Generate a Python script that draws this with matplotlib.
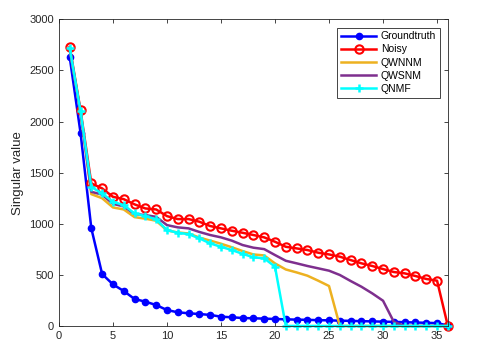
import matplotlib
matplotlib.use("Agg")
import matplotlib.pyplot as plt

plt.rcParams['font.family'] = ['Liberation Sans', 'DejaVu Sans']

idx = list(range(1, 37))

groundtruth = [2630, 1890, 955, 508, 407, 342, 264, 238, 205, 156, 134, 124,
               117, 108, 91, 85, 78, 75, 72, 68, 65, 62, 60, 57, 55, 52, 50,
               47, 45, 42, 40, 37, 34, 31, 28, 5]

noisy = [2730, 2110, 1395, 1346, 1264, 1241, 1190, 1150, 1140, 1075, 1046,
         1046, 1020, 978, 955, 932, 912, 890, 867, 824, 775, 759, 743, 717,
         700, 678, 645, 613, 587, 557, 528, 515, 489, 460, 443, 0]

qwnnm = [2710, 2090, 1290, 1250, 1160, 1140, 1065, 1050, 1030, 935, 915,
         905, 865, 835, 805, 770, 733, 700, 690, 612, 553, 524, 492, 443,
         391, 0, 0, 0, 0, 0, 0, 0, 0, 0, 0, 0]

qwsnm = [2710, 2095, 1313, 1285, 1195, 1170, 1095, 1085, 1068, 987, 965,
         955, 920, 890, 867, 835, 792, 766, 752, 694, 638, 613, 587, 564,
         541, 499, 440, 384, 319, 247, 40, 0, 0, 0, 0, 0]

qnmf = [2720, 2100, 1360, 1297, 1215, 1183, 1101, 1075, 1043, 938, 912,
        899, 857, 808, 775, 743, 706, 672, 662, 580, 0, 0, 0, 0, 0, 0, 0,
        0, 0, 0, 0, 0, 0, 0, 0, 0]

fig = plt.figure(figsize=(4.79, 3.59), dpi=100)
ax = fig.add_axes([0.123, 0.092, 0.812, 0.854])

ax.plot(idx, groundtruth, color="#0000FF", linewidth=1.8, marker="o",
        markersize=4.5, label="Groundtruth", clip_on=False)
ax.plot(idx, noisy, color="#FF0000", linewidth=1.8, marker="o",
        markersize=6, markerfacecolor="none", markeredgewidth=1.5,
        label="Noisy", clip_on=False)
ax.plot(idx, qwnnm, color="#EDB120", linewidth=1.8, label="QWNNM",
        clip_on=False)
ax.plot(idx, qwsnm, color="#7E2F8E", linewidth=1.8, label="QWSNM",
        clip_on=False)
ax.plot(idx, qnmf, color="#00FFFF", linewidth=1.8, marker="+",
        markersize=6, markeredgewidth=1.8, label="QNMF", clip_on=False)

ax.set_xlim(0, 36)
ax.set_ylim(0, 3000)
ax.set_xticks(range(0, 36, 5))
ax.set_yticks(range(0, 3001, 500))
ax.set_ylabel("Singular value", fontsize=9.5, color="#262626")

ax.tick_params(direction="in", length=3, width=0.6, top=True, right=True,
               labelsize=8, colors="#262626")
for spine in ax.spines.values():
    spine.set_color("#262626")
    spine.set_linewidth(0.6)

leg = ax.legend(loc="upper right", fontsize=7.5, handlelength=3.4,
                fancybox=False, edgecolor="#262626", framealpha=1,
                borderpad=0.35, labelspacing=0.3, handletextpad=0.4,
                borderaxespad=0.8)
leg.get_frame().set_linewidth(0.6)

fig.savefig("out.png", dpi=100)
